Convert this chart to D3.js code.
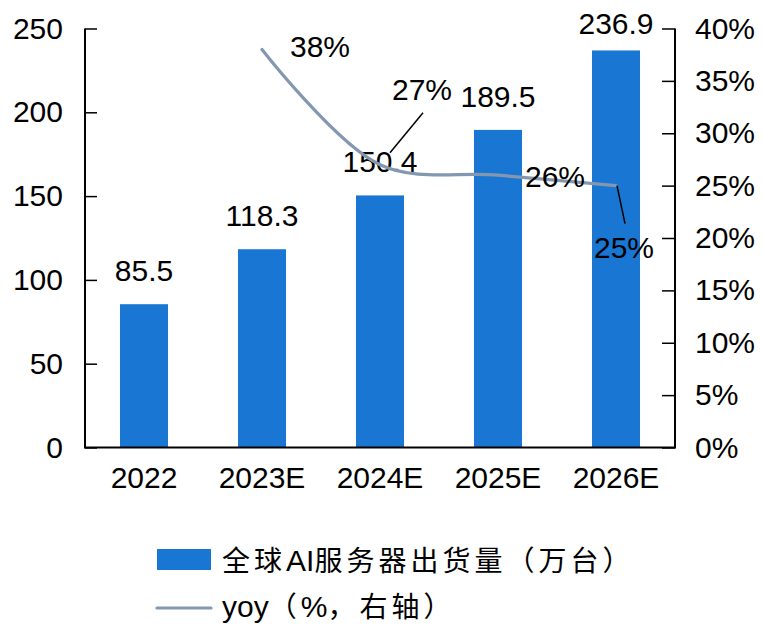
<!DOCTYPE html>
<html>
<head>
<meta charset="utf-8">
<script src="https://cdn.jsdelivr.net/npm/d3@7"></script>
<style>
  html, body { margin: 0; padding: 0; background: #fff; }
  svg { display: block; }
  text { font-family: "Liberation Sans", Arial, "Noto Sans CJK SC", sans-serif; fill: #000; }
</style>
</head>
<body>
<svg id="chart" width="763" height="624"></svg>
<script>
// Global AI server shipments (10k units) and year-over-year growth
const years = ["2022", "2023E", "2024E", "2025E", "2026E"];
const shipments = [85.5, 118.3, 150.4, 189.5, 236.9];
const yoyYears = ["2023E", "2024E", "2025E", "2026E"];
const yoy = [0.38, 0.27, 0.26, 0.25];
const leftTicks = [0, 50, 100, 150, 200, 250];
const rightTicks = [0, 0.05, 0.10, 0.15, 0.20, 0.25, 0.30, 0.35, 0.40];
const legendLabels = ["全球AI服务器出货量（万台）", "yoy（%，右轴）"];

const barColor = "#1976D2";
const lineColor = "#8497B0";

const svg = d3.select("#chart");
const plot = { left: 85, right: 675, top: 28.5, bottom: 447.5 };

const x = d3.scaleBand()
  .domain(years)
  .range([plot.left, plot.right])
  .paddingInner(0.593)
  .paddingOuter(0.2965);

const yLeft = d3.scaleLinear().domain([0, 250]).range([plot.bottom, plot.top]);
const yRight = d3.scaleLinear().domain([0, 0.40]).range([plot.bottom, plot.top]);

const fontSize = 30;
const latinFont = "Liberation Sans, Arial, sans-serif";

// Bars
svg.append("g").selectAll("rect")
  .data(years.map((d, i) => ({ year: d, v: shipments[i] })))
  .join("rect")
  .attr("x", d => x(d.year))
  .attr("y", d => yLeft(d.v))
  .attr("width", x.bandwidth())
  .attr("height", d => yLeft(0) - yLeft(d.v))
  .attr("fill", barColor);

// Left axis
const leftAxis = svg.append("g")
  .attr("transform", `translate(${plot.left},0)`)
  .call(d3.axisLeft(yLeft).tickValues(leftTicks).tickSize(-12).tickPadding(22).tickFormat(d3.format("d")));
leftAxis.select(".domain").attr("stroke", "#000").attr("stroke-width", 2).attr("d", `M0,${plot.top}V${plot.bottom}`);
leftAxis.selectAll(".tick line").attr("stroke", "#000").attr("stroke-width", 1.5);
leftAxis.selectAll(".tick text").attr("font-size", fontSize).attr("fill", "#000").attr("font-family", latinFont);

// Right axis
const rightAxis = svg.append("g")
  .attr("transform", `translate(${plot.right},0)`)
  .call(d3.axisRight(yRight).tickValues(rightTicks).tickSize(-13).tickPadding(20).tickFormat(d3.format(".0%")));
rightAxis.select(".domain").attr("stroke", "#000").attr("stroke-width", 2).attr("d", `M0,${plot.top}V${plot.bottom}`);
rightAxis.selectAll(".tick line").attr("stroke", "#000").attr("stroke-width", 1.5);
rightAxis.selectAll(".tick text").attr("font-size", fontSize).attr("fill", "#000").attr("font-family", latinFont);

// Bottom axis
const bottomAxis = svg.append("g")
  .attr("transform", `translate(0,${plot.bottom})`)
  .call(d3.axisBottom(x).tickSize(0).tickPadding(40));
bottomAxis.select(".domain").attr("stroke", "#000").attr("stroke-width", 2)
  .attr("d", `M${plot.left - 1},0H${plot.right + 1}`);
bottomAxis.selectAll(".tick text").attr("font-size", fontSize).attr("fill", "#000")
  .attr("font-family", latinFont).attr("dy", "0");

// Value labels above bars
svg.append("g").selectAll("text")
  .data(years.map((d, i) => ({ year: d, v: shipments[i] })))
  .join("text")
  .attr("x", d => x(d.year) + x.bandwidth() / 2)
  .attr("y", d => Math.max(yLeft(d.v) - 23, 34))
  .attr("text-anchor", "middle")
  .attr("font-size", fontSize)
  .text(d => d3.format(".1f")(d.v));

// YoY smoothed line
const pts = yoyYears.map((d, i) => ({ year: d, v: yoy[i], cx: x(d) + x.bandwidth() / 2, cy: yRight(yoy[i]) }));
const line = d3.line().x(d => d.cx).y(d => d.cy).curve(d3.curveCatmullRom.alpha(0.5));
svg.append("path")
  .datum(pts)
  .attr("d", line)
  .attr("fill", "none")
  .attr("stroke", lineColor)
  .attr("stroke-width", 3.2)
  .attr("stroke-linecap", "round");

// YoY labels, some with leader lines
const yoyPlacement = [
  { dx: 58, dy: 8, leader: null },
  { dx: 42, dy: -65, leader: [10, -12, 43, -52] },
  { dx: 57, dy: 12, leader: null },
  { dx: 8, dy: 72, leader: [1, 0, 9, 38] }
];
const yoyG = svg.append("g");
pts.forEach((p, i) => {
  const pl = yoyPlacement[i];
  if (pl.leader) {
    yoyG.append("line")
      .attr("x1", p.cx + pl.leader[0]).attr("y1", p.cy + pl.leader[1])
      .attr("x2", p.cx + pl.leader[2]).attr("y2", p.cy + pl.leader[3])
      .attr("stroke", "#000").attr("stroke-width", 1.5);
  }
  yoyG.append("text")
    .attr("x", p.cx + pl.dx)
    .attr("y", p.cy + pl.dy)
    .attr("text-anchor", "middle")
    .attr("font-size", fontSize)
    .text(d3.format(".0%")(p.v));
});

// Legend: Latin runs set tight, CJK / full-width runs spaced out
function writeMixed(textSel, str) {
  const runs = str.match(/[\u3000-\u9fff\uff00-\uffef]+|[^\u3000-\u9fff\uff00-\uffef]+/g);
  runs.forEach(r => {
    const cjk = /[\u3000-\u9fff\uff00-\uffef]/.test(r);
    textSel.append("tspan")
      .attr("font-family", cjk ? "Noto Sans CJK SC, sans-serif" : latinFont)
      .attr("font-size", cjk ? 28 : 30)
      .attr("letter-spacing", cjk ? 4 : 0)
      .text(r);
  });
}
const legend = svg.append("g");
legend.append("rect")
  .attr("x", 157).attr("y", 549).attr("width", 54).attr("height", 21)
  .attr("fill", barColor);
writeMixed(legend.append("text").attr("x", 222).attr("y", 571), legendLabels[0]);
legend.append("line")
  .attr("x1", 157).attr("x2", 211).attr("y1", 608).attr("y2", 608)
  .attr("stroke", lineColor).attr("stroke-width", 3.2).attr("stroke-linecap", "round");
writeMixed(legend.append("text").attr("x", 222).attr("y", 617), legendLabels[1]);
</script>
</body>
</html>
